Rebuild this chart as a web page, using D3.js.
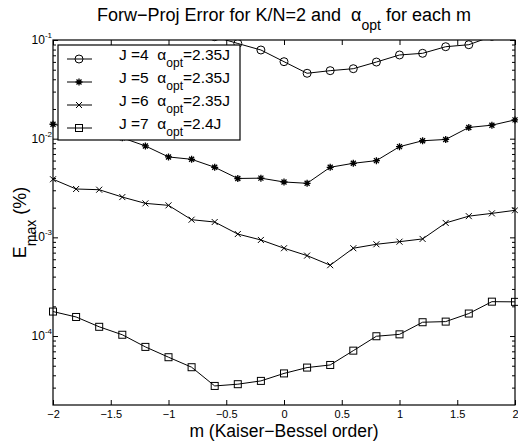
<!DOCTYPE html>
<html>
<head>
<meta charset="utf-8">
<script src="https://cdn.jsdelivr.net/npm/d3@7"></script>
<style>
body { margin: 0; background: #fff; }
text { font-family: "Liberation Sans", Arial, sans-serif; fill: #000; }
</style>
</head>
<body>
<div id="graph"></div>
<script>
var svgWidth = 518;		// width of the svg element
var svgHeight = 442;	// height of the svg element
var chartLeft = 53;		// left edge of the axes box
var chartTop = 40;		// top edge of the axes box
var chartWidth = 462;
var chartHeight = 365;

// data
var mVals = [-2, -1.8, -1.6, -1.4, -1.2, -1, -0.8, -0.6, -0.4, -0.2, 0, 0.2, 0.4, 0.6, 0.8, 1, 1.2, 1.4, 1.6, 1.8, 2];
var errJ4 = [0.35, 0.3, 0.26, 0.22, 0.19, 0.16, 0.13, 0.108, 0.0922, 0.0792, 0.0603, 0.046, 0.0489, 0.0512, 0.0598, 0.0705, 0.0733, 0.0855, 0.0896, 0.109, 0.125];
var errJ5 = [0.0140, 0.0128, 0.0117, 0.0102, 0.00844, 0.00653, 0.00618, 0.00513, 0.00395, 0.00398, 0.00364, 0.00353, 0.00513, 0.00563, 0.00599, 0.0083, 0.00953, 0.00982, 0.0130, 0.0137, 0.0155];
var errJ6 = [0.00388, 0.00309, 0.00304, 0.00256, 0.00221, 0.00211, 0.00151, 0.00143, 0.00108, 0.000941, 0.000776, 0.000653, 0.000522, 0.000776, 0.000851, 0.000904, 0.000964, 0.0014, 0.00164, 0.00175, 0.00188];
var errJ7 = [1.77e-4, 1.56e-4, 1.24e-4, 1.03e-4, 7.76e-5, 6.10e-5, 4.83e-5, 3.12e-5, 3.25e-5, 3.51e-5, 4.18e-5, 4.79e-5, 5.09e-5, 7.11e-5, 9.95e-5, 1.04e-4, 1.38e-4, 1.40e-4, 1.69e-4, 2.23e-4, 2.22e-4];

var jLabels = ["J =4", "J =5", "J =6", "J =7"];
var alphaLabels = ["=2.35J", "=2.35J", "=2.35J", "=2.4J"];
var markerTypes = ["circle", "star", "cross", "square"];

var xTicks = [-2, -1.5, -1, -0.5, 0, 0.5, 1, 1.5, 2];
var yMajor = [1e-1, 1e-2, 1e-3, 1e-4];
var yExps = ["-1", "-2", "-3", "-4"];

var series = [errJ4, errJ5, errJ6, errJ7];

// scales
var xScale = d3.scaleLinear().domain([-2, 2]).range([0, chartWidth]);
var yScale = d3.scaleLog().domain([2e-5, 0.1]).range([chartHeight, 0]);

// minor log ticks
var yMinor = [];
[-5, -4, -3, -2].forEach(function(e) {
	for (var k = 2; k <= 9; k++) {
		var v = k * Math.pow(10, e);
		if (v > 2e-5 && v < 0.1) yMinor.push(v);
	}
});

var svg = d3.select("#graph")
	.append("svg")
	.attr("width", svgWidth)
	.attr("height", svgHeight);

// title
var title = svg.append("text")
	.attr("x", 284)
	.attr("y", 21)
	.attr("text-anchor", "middle")
	.attr("font-size", 18);
title.append("tspan").text("Forw\u2212Proj Error for K/N=2 and \u00a0\u03b1");
title.append("tspan").attr("font-size", 14).attr("dy", 9).text("opt");
title.append("tspan").attr("dy", -9).text(" for each m");

// x axis title
svg.append("text")
	.attr("x", 284)
	.attr("y", 437)
	.attr("text-anchor", "middle")
	.attr("font-size", 17.5)
	.text("m (Kaiser\u2212Bessel order)");

// y axis title
var yTitle = svg.append("text")
	.attr("transform", "translate(26," + (chartTop + chartHeight / 2) + ") rotate(-90)")
	.attr("text-anchor", "middle")
	.attr("font-size", 18);
yTitle.append("tspan").text("E");
yTitle.append("tspan").attr("font-size", 14).attr("dy", 10).text("max");
yTitle.append("tspan").attr("dy", -10).text(" (%)");

var chartGroup = svg.append("g")
	.attr("transform", "translate(" + chartLeft + "," + chartTop + ")");

// axes (ticks pointing inward)
function styleAxis(g) {
	g.select(".domain").remove();
	g.selectAll(".tick line").attr("stroke", "#000");
}

chartGroup.append("g")
	.attr("transform", "translate(0," + chartHeight + ")")
	.call(d3.axisBottom(xScale).tickValues(xTicks).tickSizeInner(-5).tickSizeOuter(0).tickPadding(5)
		.tickFormat(function(d) { return d < 0 ? "\u2212" + Math.abs(d) : d; }))
	.call(styleAxis)
	.selectAll("text").attr("font-size", 11).attr("font-family", "Liberation Sans, Arial, sans-serif");

chartGroup.append("g")
	.call(d3.axisTop(xScale).tickValues(xTicks).tickSizeInner(-5).tickSizeOuter(0).tickFormat(""))
	.call(styleAxis);

[[d3.axisLeft, 0], [d3.axisRight, chartWidth]].forEach(function(a) {
	chartGroup.append("g")
		.attr("transform", "translate(" + a[1] + ",0)")
		.call(a[0](yScale).tickValues(yMajor).tickSizeInner(-5).tickSizeOuter(0).tickFormat(""))
		.call(styleAxis);
	chartGroup.append("g")
		.attr("transform", "translate(" + a[1] + ",0)")
		.call(a[0](yScale).tickValues(yMinor).tickSizeInner(-3).tickSizeOuter(0).tickFormat(""))
		.call(styleAxis);
});

// y tick labels as 10 with superscript
var yLab = chartGroup.append("g").selectAll("text")
	.data(yMajor)
	.enter().append("text")
	.attr("x", -1)
	.attr("y", function(d) { return yScale(d) + 4; })
	.attr("text-anchor", "end")
	.attr("font-size", 12);
yLab.append("tspan").text("10");
yLab.append("tspan").attr("font-size", 8).attr("dy", -6).text(function(d, i) { return yExps[i]; });

// clip lines to the axes box
chartGroup.append("clipPath").attr("id", "clip")
	.append("rect")
	.attr("x", -10).attr("y", 0)
	.attr("width", chartWidth + 20).attr("height", chartHeight);

var plotGroup = chartGroup.append("g").attr("clip-path", "url(#clip)");

var line = d3.line()
	.x(function(d, i) { return xScale(mVals[i]); })
	.y(function(d) { return yScale(d); });

function drawMarker(g, type) {
	if (type == "circle") {
		g.append("circle").attr("r", 4).attr("fill", "none").attr("stroke", "#000");
	} else if (type == "square") {
		g.append("rect").attr("x", -3.5).attr("y", -3.5).attr("width", 7).attr("height", 7)
			.attr("fill", "none").attr("stroke", "#000");
	} else if (type == "cross") {
		g.append("path").attr("d", "M-3,-3L3,3M-3,3L3,-3").attr("stroke", "#000");
	} else {
		g.append("path").attr("d", "M-3.5,0L3.5,0M0,-3.5L0,3.5M-2.5,-2.5L2.5,2.5M-2.5,2.5L2.5,-2.5")
			.attr("stroke", "#000").attr("stroke-width", 1.3);
	}
}

series.forEach(function(s, si) {
	plotGroup.append("path")
		.datum(s)
		.attr("fill", "none")
		.attr("stroke", "#000")
		.attr("stroke-width", 1)
		.attr("d", line);
	plotGroup.selectAll(".m" + si)
		.data(s)
		.enter().append("g")
		.attr("class", "m" + si)
		.attr("transform", function(d, i) { return "translate(" + xScale(mVals[i]) + "," + yScale(d) + ")"; })
		.each(function() { drawMarker(d3.select(this), markerTypes[si]); });
});

// axes box
chartGroup.append("rect")
	.attr("width", chartWidth)
	.attr("height", chartHeight)
	.attr("fill", "none")
	.attr("stroke", "#000")
	.attr("stroke-width", 1.2);

// legend
var legend = chartGroup.append("g").attr("transform", "translate(5,5)");
legend.append("rect")
	.attr("width", 182)
	.attr("height", 95)
	.attr("fill", "#fff")
	.attr("stroke", "#000")
	.attr("stroke-width", 1.2);

var rows = legend.selectAll(".row")
	.data(jLabels)
	.enter().append("g")
	.attr("class", "row")
	.attr("transform", function(d, i) { return "translate(0," + (14 + i * 23) + ")"; });

rows.append("line")
	.attr("x1", 9).attr("x2", 34)
	.attr("stroke", "#000");
rows.each(function(d, i) {
	var g = d3.select(this).append("g").attr("transform", "translate(21,0)");
	drawMarker(g, markerTypes[i]);
});

var rowText = rows.append("text")
	.attr("x", 61)
	.attr("y", 1)
	.attr("font-size", 15.5);
rowText.append("tspan").text(function(d) { return d + " \u00a0\u03b1"; });
rowText.append("tspan").attr("font-size", 12).attr("dy", 7).text("opt");
rowText.append("tspan").attr("dy", -7).text(function(d, i) { return alphaLabels[i]; });
</script>
</body>
</html>
